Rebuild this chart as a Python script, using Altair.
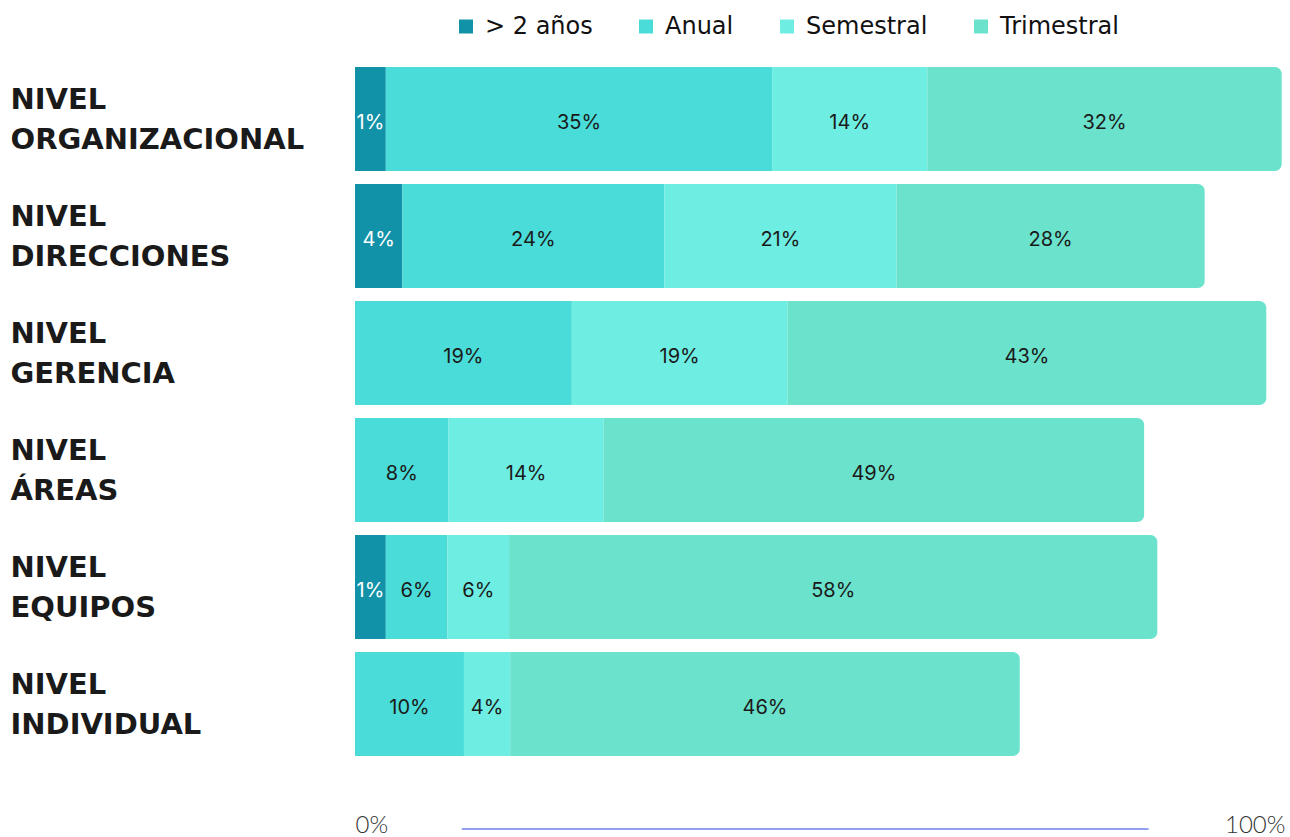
import altair as alt
import pandas as pd

categories = ["NIVEL ORGANIZACIONAL", "NIVEL DIRECCIONES", "NIVEL GERENCIA",
              "NIVEL ÁREAS", "NIVEL EQUIPOS", "NIVEL INDIVIDUAL"]
series = ["> 2 años", "Anual", "Semestral", "Trimestral"]
colors = ["#1292a8", "#4adcd8", "#6eede2", "#6be2cc"]

# segment lengths
v_mas2 = [2.8, 4.3, 0.0, 0.0, 2.8, 0.0]
v_anual = [35.1, 23.8, 19.7, 8.5, 5.6, 9.9]
v_semestral = [14.1, 21.1, 19.6, 14.1, 5.6, 4.2]
v_trimestral = [32.2, 28.0, 43.5, 49.1, 58.9, 46.3]

# printed labels
l_mas2 = ["1%", "4%", "", "", "1%", ""]
l_anual = ["35%", "24%", "19%", "8%", "6%", "10%"]
l_semestral = ["14%", "21%", "19%", "14%", "6%", "4%"]
l_trimestral = ["32%", "28%", "43%", "49%", "58%", "46%"]

x_ticks = [0, 84.5]
x_tick_labels = ["0%", "100%"]
axis_line_span = [9.7, 72.1]

rows = []
for s_i, (s, vals, labs) in enumerate(zip(
        series, [v_mas2, v_anual, v_semestral, v_trimestral],
        [l_mas2, l_anual, l_semestral, l_trimestral])):
    for c, v, l in zip(categories, vals, labs):
        rows.append({"category": c, "series": s, "order": s_i, "value": v, "label": l})
df = pd.DataFrame(rows)

base = alt.Chart(df).transform_stack(
    stack="value", as_=["x0", "x1"], groupby=["category"],
    sort=[alt.SortField("order", order="ascending")]
).transform_filter("datum.value > 0")

x_enc = alt.X("x0:Q", scale=alt.Scale(domain=[0, 84.5], nice=False, zero=True),
              axis=alt.Axis(values=x_ticks, title=None, grid=False, ticks=False, tickSize=0,
                            domain=False, labelFlush=True, labelPadding=51,
                            labelExpr="datum.value == 0 ? '%s' : '%s'" % tuple(x_tick_labels),
                            labelFont="Lato", labelFontWeight=300, labelFontSize=24,
                            labelColor="#333333"))
y_enc = alt.Y("category:N", sort=categories,
              scale=alt.Scale(paddingInner=0.111, paddingOuter=0.056),
              axis=alt.Axis(title=None, ticks=False, tickSize=0, domain=False,
                            labelAlign="left", labelPadding=345, labelBaseline="middle",
                            labelOffset=-19,
                            labelExpr="split(datum.label, ' ')", labelLineHeight=40,
                            labelFont="DejaVu Sans", labelFontWeight="bold",
                            labelFontSize=29, labelColor="#1a1a1a", labelLimit=400))
color_enc = alt.Color("series:N", scale=alt.Scale(domain=series, range=colors),
                      legend=alt.Legend(title=None, orient="none", legendX=99, legendY=-46,
                                        direction="horizontal", symbolType="square",
                                        symbolSize=196, symbolStrokeWidth=0,
                                        labelFont="DejaVu Sans",
                                        labelFontSize=24,
                                        labelColor="#111111", labelOffset=7,
                                        columnPadding=41, padding=0, labelLimit=300))

bars_plain = base.transform_filter("datum.series != 'Trimestral'").mark_bar().encode(
    x=x_enc, x2="x1:Q", y=y_enc, color=color_enc)
bars_end = base.transform_filter("datum.series == 'Trimestral'").mark_bar(
    cornerRadiusTopRight=7, cornerRadiusBottomRight=7).encode(
    x="x0:Q", x2="x1:Q", y=alt.Y("category:N", sort=categories), color=color_enc)

texts = base.transform_calculate(mid="(datum.x0 + datum.x1) / 2").mark_text(
    font="Inter", fontSize=20, baseline="middle", align="center", dy=4).encode(
    x="mid:Q", y=alt.Y("category:N", sort=categories), text="label:N",
    color=alt.condition("datum.series == '> 2 años'", alt.value("white"), alt.value("#1a1a1a")))

line = alt.Chart(pd.DataFrame({"a": [axis_line_span[0]], "b": [axis_line_span[1]]})).mark_rule(
    color="#949ff0", strokeWidth=2).encode(x="a:Q", x2="b:Q", y=alt.value(768.5))

chart = alt.layer(bars_plain, bars_end, texts, line).properties(
    width=930, height=702,
    padding={"left": 10, "top": 14.5, "right": 5, "bottom": 0},
    background="white"
).configure_view(stroke=None)

chart.save("out.html", embed_options={"renderer": "svg", "actions": False})
